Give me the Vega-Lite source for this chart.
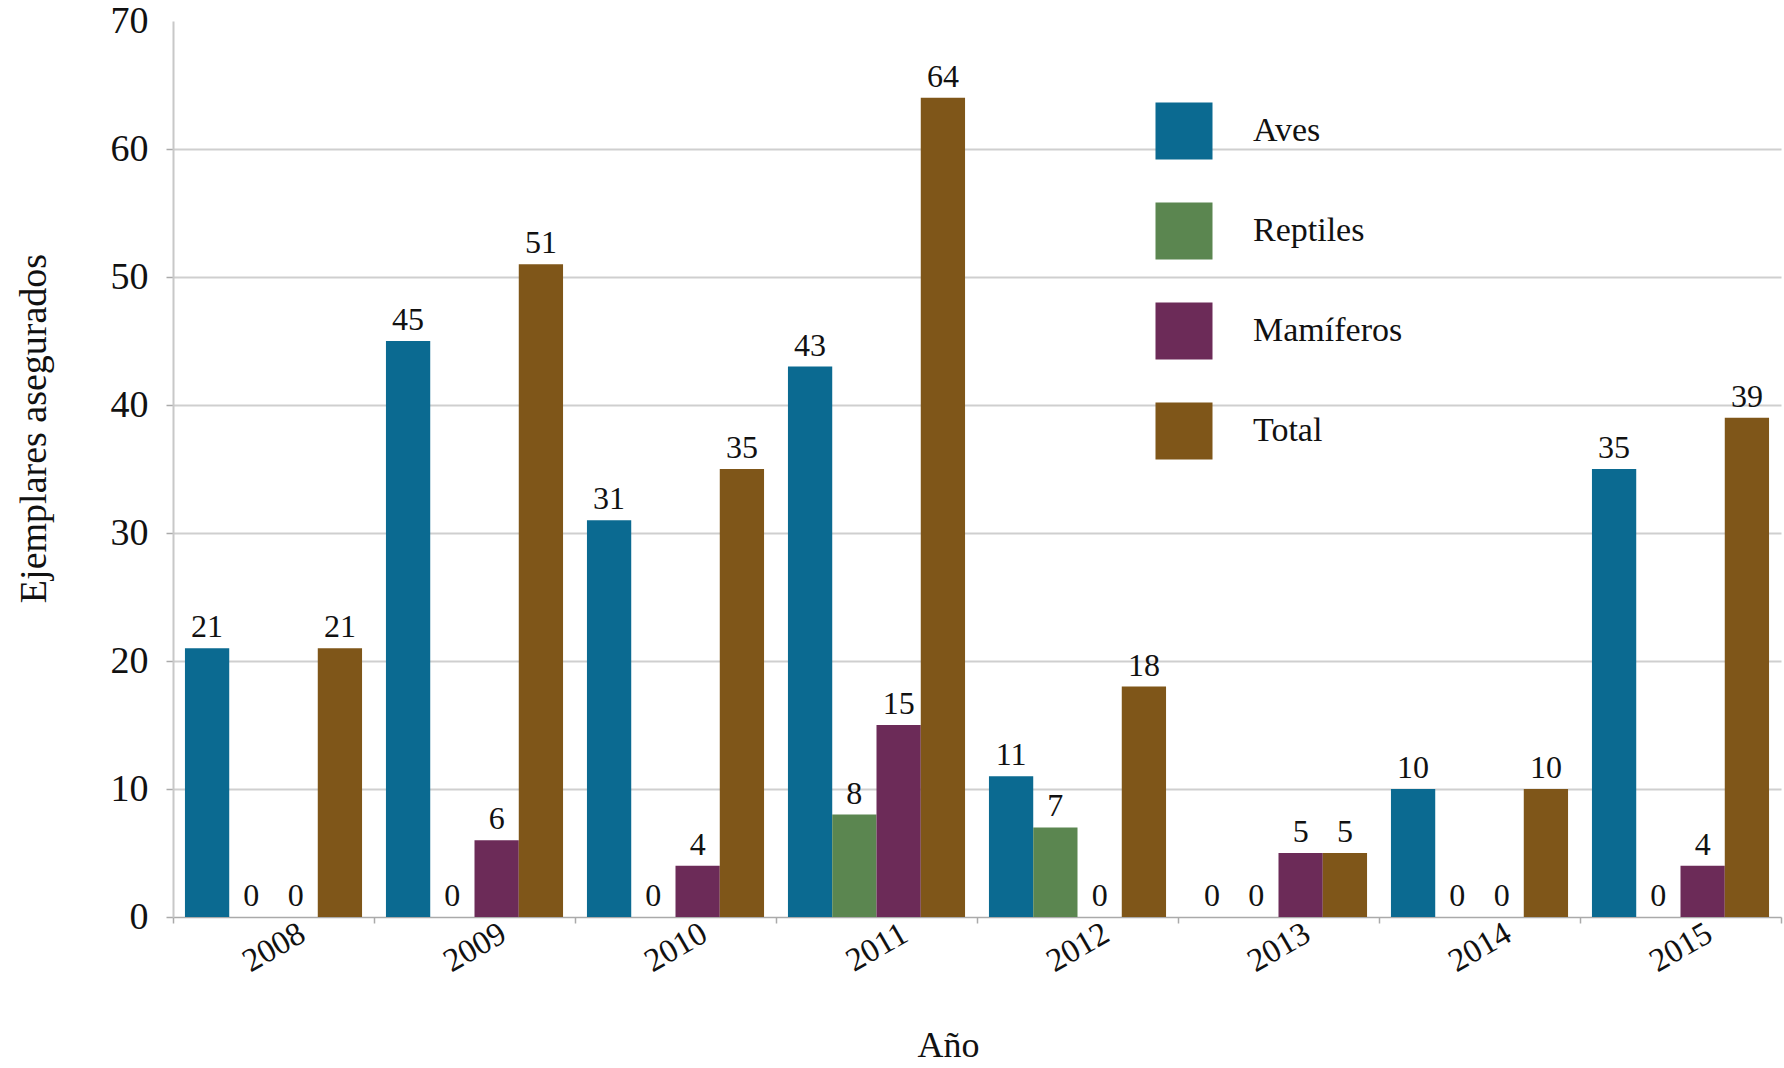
{
  "$schema": "https://vega.github.io/schema/vega-lite/v6.json",
  "width": 1608,
  "height": 896,
  "autosize": {"type": "none"},
  "padding": {"left": 173, "top": 21, "right": 3, "bottom": 151},
  "background": "white",
  "config": {
    "font": "Liberation Serif",
    "view": {"stroke": null},
    "axis": {"labelFont": "Liberation Serif", "titleFont": "Liberation Serif", "labelColor": "#111", "titleColor": "#111", "titleFontWeight": "normal"}
  },
  "data": {
    "values": [
      {"year": "2008", "cat": "Aves", "value": 21},
      {"year": "2008", "cat": "Reptiles", "value": 0},
      {"year": "2008", "cat": "Mamíferos", "value": 0},
      {"year": "2008", "cat": "Total", "value": 21},
      {"year": "2009", "cat": "Aves", "value": 45},
      {"year": "2009", "cat": "Reptiles", "value": 0},
      {"year": "2009", "cat": "Mamíferos", "value": 6},
      {"year": "2009", "cat": "Total", "value": 51},
      {"year": "2010", "cat": "Aves", "value": 31},
      {"year": "2010", "cat": "Reptiles", "value": 0},
      {"year": "2010", "cat": "Mamíferos", "value": 4},
      {"year": "2010", "cat": "Total", "value": 35},
      {"year": "2011", "cat": "Aves", "value": 43},
      {"year": "2011", "cat": "Reptiles", "value": 8},
      {"year": "2011", "cat": "Mamíferos", "value": 15},
      {"year": "2011", "cat": "Total", "value": 64},
      {"year": "2012", "cat": "Aves", "value": 11},
      {"year": "2012", "cat": "Reptiles", "value": 7},
      {"year": "2012", "cat": "Mamíferos", "value": 0},
      {"year": "2012", "cat": "Total", "value": 18},
      {"year": "2013", "cat": "Aves", "value": 0},
      {"year": "2013", "cat": "Reptiles", "value": 0},
      {"year": "2013", "cat": "Mamíferos", "value": 5},
      {"year": "2013", "cat": "Total", "value": 5},
      {"year": "2014", "cat": "Aves", "value": 10},
      {"year": "2014", "cat": "Reptiles", "value": 0},
      {"year": "2014", "cat": "Mamíferos", "value": 0},
      {"year": "2014", "cat": "Total", "value": 10},
      {"year": "2015", "cat": "Aves", "value": 35},
      {"year": "2015", "cat": "Reptiles", "value": 0},
      {"year": "2015", "cat": "Mamíferos", "value": 4},
      {"year": "2015", "cat": "Total", "value": 39}
    ]
  },
  "encoding": {
    "x": {
      "field": "year", "type": "nominal",
      "scale": {"paddingInner": 0, "paddingOuter": 0},
      "axis": {
        "title": "Año", "titleFontSize": 36, "titleX": 775, "titleY": 128, "titleBaseline": "middle",
        "labelAngle": -30, "labelAlign": "center", "labelBaseline": "middle", "labelFontSize": 33, "labelPadding": 24,
        "tickBand": "extent", "tickColor": "#aaa", "tickSize": 6, "tickWidth": 1.5,
        "domainColor": "#aaa", "domainWidth": 1.5, "grid": false
      }
    },
    "xOffset": {
      "field": "cat", "type": "nominal",
      "sort": ["Aves", "Reptiles", "Mamíferos", "Total"],
      "scale": {"paddingInner": 0, "paddingOuter": 0.27}
    },
    "y": {
      "field": "value", "type": "quantitative",
      "scale": {"domain": [0, 70], "nice": false},
      "axis": {
        "title": "Ejemplares asegurados", "titleFontSize": 38, "titleX": -139, "titleY": 407,
        "titleAngle": -90, "titleAlign": "center", "titleBaseline": "middle",
        "values": [0, 10, 20, 30, 40, 50, 60, 70],
        "labelFontSize": 38, "labelPadding": 18, "labelBaseline": "middle",
        "tickColor": {"condition": {"test": "datum.value == 70", "value": "transparent"}, "value": "#aaa"},
        "tickSize": 7, "tickWidth": 1.5,
        "domainColor": "#c8c8c8", "domainWidth": 2,
        "grid": true,
        "gridColor": {"condition": {"test": "datum.value == 70 || datum.value == 0", "value": "transparent"}, "value": "#cfcfcf"},
        "gridWidth": 1.8
      }
    }
  },
  "layer": [
    {
      "mark": {"type": "bar"},
      "encoding": {
        "color": {
          "field": "cat", "type": "nominal",
          "scale": {"domain": ["Aves", "Reptiles", "Mamíferos", "Total"], "range": ["#0b6a91", "#5b8650", "#6c2b58", "#7f5619"]},
          "legend": {
            "title": null, "orient": "none", "legendX": 982, "legendY": 81, "padding": 0,
            "symbolType": "square", "symbolSize": 3250, "symbolStrokeWidth": 0, "symbolOpacity": 1,
            "labelFont": "Liberation Serif", "labelFontSize": 34, "labelColor": "#111", "labelOffset": 40,
            "rowPadding": 42
          }
        }
      }
    },
    {
      "mark": {"type": "text", "baseline": "alphabetic", "dy": -11, "fontSize": 32, "font": "Liberation Serif", "color": "#111"},
      "encoding": {"text": {"field": "value", "type": "quantitative"}}
    }
  ]
}
